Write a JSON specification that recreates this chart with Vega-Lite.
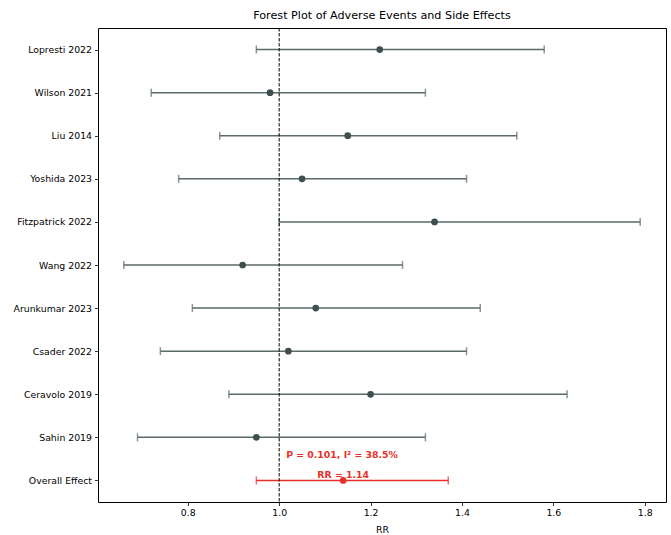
{
  "$schema": "https://vega.github.io/schema/vega-lite/v6.json",
  "autosize": "none",
  "width": 568,
  "height": 474,
  "padding": {"left": 98, "top": 28, "right": 5, "bottom": 33},
  "background": "white",
  "title": {"text": "Forest Plot of Adverse Events and Side Effects", "fontSize": 11.2, "fontWeight": "normal", "font": "DejaVu Sans", "anchor": "middle", "offset": 6, "color": "black"},
  "config": {
    "font": "DejaVu Sans",
    "view": {"stroke": "black", "strokeWidth": 1},
    "axis": {"labelFont": "DejaVu Sans", "titleFont": "DejaVu Sans", "labelFontSize": 9.33, "titleFontSize": 9.33, "labelColor": "black", "titleColor": "black", "titleFontWeight": "normal", "tickColor": "black", "tickSize": 3.5, "tickWidth": 0.8, "labelPadding": 3, "domain": false, "grid": false}
  },
  "data": {"values": [
    {"study": "Lopresti 2022", "rr": 1.22, "lo": 0.95, "hi": 1.58, "group": "study"},
    {"study": "Wilson 2021", "rr": 0.98, "lo": 0.72, "hi": 1.32, "group": "study"},
    {"study": "Liu 2014", "rr": 1.15, "lo": 0.87, "hi": 1.52, "group": "study"},
    {"study": "Yoshida 2023", "rr": 1.05, "lo": 0.78, "hi": 1.41, "group": "study"},
    {"study": "Fitzpatrick 2022", "rr": 1.34, "lo": 1.00, "hi": 1.79, "group": "study"},
    {"study": "Wang 2022", "rr": 0.92, "lo": 0.66, "hi": 1.27, "group": "study"},
    {"study": "Arunkumar 2023", "rr": 1.08, "lo": 0.81, "hi": 1.44, "group": "study"},
    {"study": "Csader 2022", "rr": 1.02, "lo": 0.74, "hi": 1.41, "group": "study"},
    {"study": "Ceravolo 2019", "rr": 1.20, "lo": 0.89, "hi": 1.63, "group": "study"},
    {"study": "Sahin 2019", "rr": 0.95, "lo": 0.69, "hi": 1.32, "group": "study"},
    {"study": "Overall Effect", "rr": 1.14, "lo": 0.95, "hi": 1.37, "group": "overall"}
  ]},
  "encoding": {
    "y": {"field": "study", "type": "nominal", "sort": null, "scale": {"type": "point", "padding": 0.5}, "axis": {"title": null}}
  },
  "layer": [
    {
      "mark": {"type": "rule", "strokeWidth": 1.5},
      "encoding": {
        "x": {"field": "lo", "type": "quantitative", "scale": {"domain": [0.6035, 1.8465], "nice": false, "zero": false}, "axis": {"title": "RR", "values": [0.8, 1.0, 1.2, 1.4, 1.6, 1.8], "format": ".1f", "titlePadding": 8}},
        "x2": {"field": "hi"},
        "color": {"condition": {"test": "datum.group === 'overall'", "value": "#e8302a"}, "value": "#5b6969"}
      }
    },
    {
      "mark": {"type": "tick", "size": 8, "thickness": 1.5},
      "encoding": {
        "x": {"field": "lo", "type": "quantitative"},
        "color": {"condition": {"test": "datum.group === 'overall'", "value": "#e8302a"}, "value": "#5b6969"}
      }
    },
    {
      "mark": {"type": "tick", "size": 8, "thickness": 1.5},
      "encoding": {
        "x": {"field": "hi", "type": "quantitative"},
        "color": {"condition": {"test": "datum.group === 'overall'", "value": "#e8302a"}, "value": "#5b6969"}
      }
    },
    {
      "transform": [{"filter": "datum.group === 'overall'"}],
      "mark": {"type": "rule", "color": "black", "strokeWidth": 1, "strokeDash": [3.5, 1.5]},
      "encoding": {"x": {"datum": 1.0, "type": "quantitative"}, "y": null}
    },
    {
      "mark": {"type": "point", "filled": true, "opacity": 1, "size": 45},
      "encoding": {
        "x": {"field": "rr", "type": "quantitative"},
        "color": {"condition": {"test": "datum.group === 'overall'", "value": "#e8302a"}, "value": "#3d4f4f"}
      }
    },
    {
      "transform": [{"filter": "datum.group === 'overall'"}],
      "mark": {"type": "text", "color": "#e8302a", "fontWeight": "bold", "fontSize": 9.33, "dy": -5, "align": "center"},
      "encoding": {
        "x": {"field": "rr", "type": "quantitative"},
        "text": {"value": "RR = 1.14"}
      }
    },
    {
      "transform": [{"filter": "datum.group === 'overall'"}],
      "mark": {"type": "text", "color": "#e8302a", "fontWeight": "bold", "fontSize": 9.33, "dy": -25, "dx": 7, "align": "left"},
      "encoding": {
        "x": {"datum": 1.0, "type": "quantitative"},
        "text": {"value": "P = 0.101, I² = 38.5%"}
      }
    }
  ]
}
